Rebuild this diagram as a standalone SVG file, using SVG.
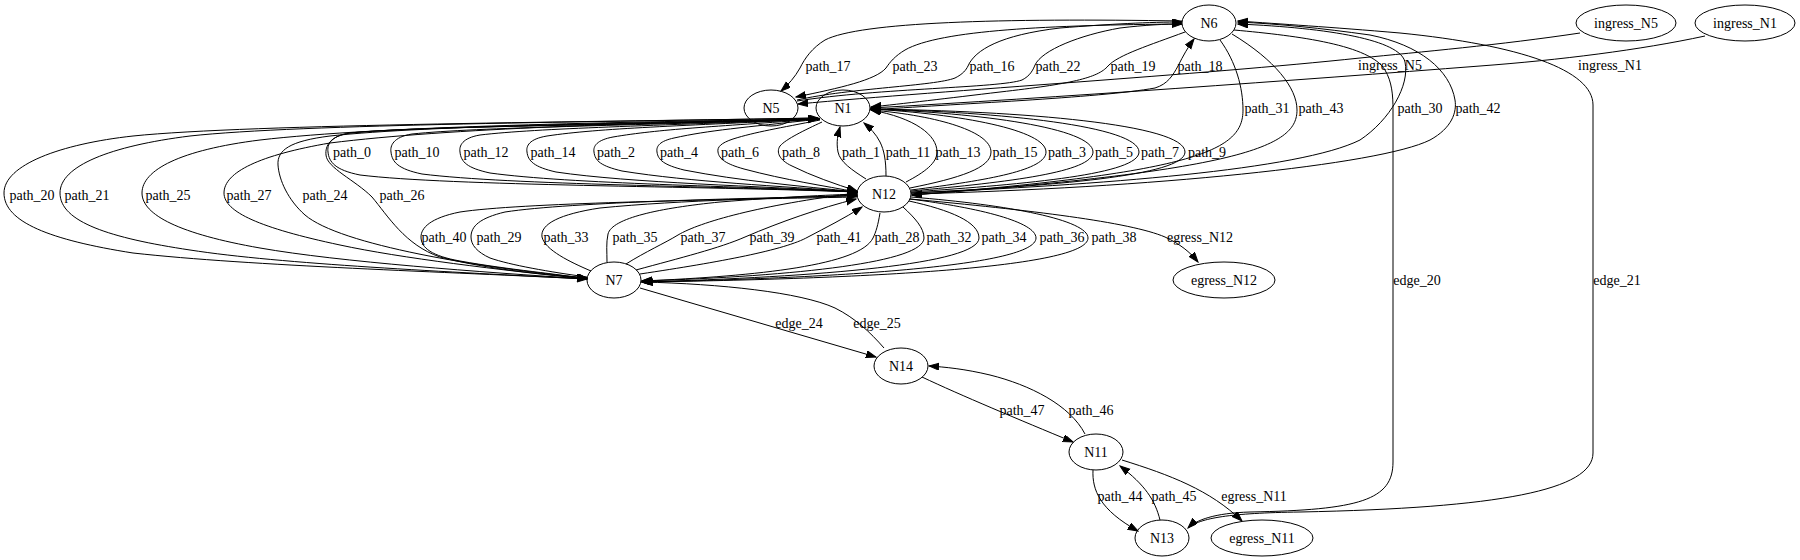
<svg xmlns="http://www.w3.org/2000/svg" width="1800" height="560" viewBox="0 0 1800 560">
<style>
text{font-family:"Liberation Serif","Times New Roman",serif;font-size:14px;fill:#000;text-anchor:middle}
.node ellipse{fill:none;stroke:#000;stroke-width:1}
.edges path{fill:none;stroke:#000;stroke-width:1;marker-end:url(#arr)}
</style>
<defs>
<marker id="arr" markerUnits="userSpaceOnUse" markerWidth="11" markerHeight="8" refX="10" refY="3.5" orient="auto">
<polygon points="0,0 10,3.5 0,7" fill="#000" stroke="#000" stroke-width="1"/>
</marker>
</defs>
<rect width="1800" height="560" fill="#fff"/>
<g id="connectors" class="edges">
<!-- Row A -->
<g id="e_path_17"><path d="M1182,21 C1000,18 860,22 825,40 C812,48 805,58 800,68 C795,77 788,85 781,91"/><text x="828" y="71">path_17</text></g>
<g id="e_path_23"><path d="M1182,24 C1050,25 940,30 905,50 C895,56 890,62 886,68 C876,80 840,88 796,97"/><text x="915" y="71">path_23</text></g>
<g id="e_path_16"><path d="M797,100 C850,88 935,86 955,78 C963,74 966,70 968,66 C975,50 1000,35 1060,28 C1110,24 1150,22 1182,22"/><text x="992" y="71">path_16</text></g>
<g id="e_path_22"><path d="M797,101 C880,88 1000,88 1022,80 C1030,76 1033,70 1035,65 C1042,50 1080,35 1120,28 C1145,25 1165,24 1182,24"/><text x="1058" y="71">path_22</text></g>
<g id="e_path_19"><path d="M1185,32 C1150,45 1118,55 1108,66 C1098,78 1070,84 1000,92 C950,98 900,104 871,107"/><text x="1133" y="71">path_19</text></g>
<g id="e_path_18"><path d="M871,110 C950,104 1100,98 1155,88 C1168,84 1173,75 1178,66 C1183,56 1188,47 1194,39"/><text x="1200" y="71">path_18</text></g>
<g id="e_ingress_N5"><path d="M1580,33 C1500,45 1420,52 1360,58 C1200,75 950,90 798,104"/><text x="1390" y="70">ingress_N5</text></g>
<g id="e_ingress_N1"><path d="M1705,36 C1640,50 1560,60 1480,66 C1300,80 1050,98 871,108"/><text x="1610" y="70">ingress_N1</text></g>
<!-- Row B -->
<g id="e_path_31"><path d="M1220,40 C1236,62 1243,88 1243,110 C1243,150 1200,172 912,195"/><text x="1267" y="113">path_31</text></g>
<g id="e_path_43"><path d="M1232,34 C1275,60 1297,88 1297,110 C1297,145 1250,170 912,195"/><text x="1321" y="113">path_43</text></g>
<g id="e_path_30"><path d="M911,193 C1100,185 1300,170 1360,140 C1390,120 1410,85 1405,62 C1400,40 1330,28 1238,24"/><text x="1420" y="113">path_30</text></g>
<g id="e_path_42"><path d="M911,194 C1150,188 1380,165 1430,140 C1452,128 1457,112 1455,100 C1450,70 1420,45 1370,35 C1320,28 1280,24 1238,22"/><text x="1478" y="113">path_42</text></g>
<g id="e_edge_20"><path d="M1234,30 C1300,36 1370,45 1385,70 C1392,82 1393,95 1393,110 L1393,462 C1393,500 1360,510 1250,512 C1215,513 1196,520 1188,528"/><text x="1417" y="285">edge_20</text></g>
<g id="e_edge_21"><path d="M1188,528 C1200,518 1230,513 1300,512 C1500,508 1593,490 1593,453 L1593,105 C1593,70 1520,45 1400,33 C1330,27 1280,24 1238,21"/><text x="1617" y="285">edge_21</text></g>
<!-- Row C left -->
<g id="e_path_0"><path d="M820,119 C600,126 420,126 350,133 C330,136 327,145 328,152 C329,162 335,170 360,175 C450,186 700,186 857,192"/><text x="352" y="157">path_0</text></g>
<g id="e_path_10"><path d="M820,119 C620,126 480,127 412,134 C393,137 390,146 391,152 C392,162 398,169 422,174 C510,185 720,186 857,192"/><text x="417" y="157">path_10</text></g>
<g id="e_path_12"><path d="M820,119 C650,126 540,128 480,135 C462,138 459,146 460,152 C461,162 467,168 490,173 C570,184 740,186 857,192"/><text x="486" y="157">path_12</text></g>
<g id="e_path_14"><path d="M820,119 C680,126 600,128 547,136 C529,139 526,146 527,152 C528,161 534,167 556,172 C630,183 760,186 857,192"/><text x="553" y="157">path_14</text></g>
<g id="e_path_2"><path d="M820,119 C710,127 660,129 613,137 C597,140 593,146 594,152 C595,161 601,166 622,171 C690,182 780,186 857,192"/><text x="616" y="157">path_2</text></g>
<g id="e_path_4"><path d="M820,119 C740,128 710,130 674,138 C660,141 656,146 657,152 C658,160 664,165 684,170 C740,181 800,186 857,192"/><text x="679" y="157">path_4</text></g>
<g id="e_path_6"><path d="M820,120 C780,128 755,132 733,139 C721,143 717,147 718,152 C719,159 726,164 744,169 C785,180 825,186 857,192"/><text x="740" y="157">path_6</text></g>
<g id="e_path_8"><path d="M822,122 C805,130 786,139 780,146 C776,152 779,160 792,166 C812,176 835,184 857,191"/><text x="801" y="157">path_8</text></g>
<!-- Row C right -->
<g id="e_path_1"><path d="M866,179 C852,170 840,162 838,152 C836,142 838,134 840,127"/><text x="861" y="157">path_1</text></g>
<g id="e_path_11"><path d="M886,176 C886,160 884,150 880,142 C876,134 870,128 864,123"/><text x="908" y="157">path_11</text></g>
<g id="e_path_13"><path d="M906,182 C925,172 937,163 937,152 C937,135 915,118 871,110"/><text x="958" y="157">path_13</text></g>
<g id="e_path_15"><path d="M910,188 C960,178 991,168 991,152 C991,132 940,116 871,110"/><text x="1015" y="157">path_15</text></g>
<g id="e_path_3"><path d="M911,190 C990,180 1046,170 1046,152 C1046,130 960,114 871,109"/><text x="1067" y="157">path_3</text></g>
<g id="e_path_5"><path d="M911,191 C1010,182 1093,172 1093,152 C1093,128 980,113 871,109"/><text x="1114" y="157">path_5</text></g>
<g id="e_path_7"><path d="M911,192 C1030,184 1139,174 1139,152 C1139,126 1000,112 871,109"/><text x="1160" y="157">path_7</text></g>
<g id="e_path_9"><path d="M911,193 C1050,186 1185,176 1185,152 C1185,124 1020,111 871,109"/><text x="1207" y="157">path_9</text></g>
<!-- Row D -->
<g id="e_path_20"><path d="M818,118 C600,122 250,124 133,136 C60,144 4,165 4,193 C4,222 50,240 133,253 C250,266 450,272 587,279"/><text x="32" y="200">path_20</text></g>
<g id="e_path_21"><path d="M587,279 C450,272 280,264 190,250 C110,238 60,222 60,193 C60,166 110,146 190,136 C300,124 600,122 818,118"/><text x="87" y="200">path_21</text></g>
<g id="e_path_25"><path d="M587,279 C480,272 340,262 260,248 C180,234 142,215 142,193 C142,170 180,150 260,140 C380,126 620,122 818,119"/><text x="168" y="200">path_25</text></g>
<g id="e_path_27"><path d="M587,279 C500,270 400,258 340,245 C260,228 224,212 224,193 C224,172 260,155 330,143 C450,128 640,123 818,119"/><text x="249" y="200">path_27</text></g>
<g id="e_path_24"><path d="M818,119 C650,123 430,125 330,136 C290,141 277,150 278,165 C279,180 288,200 305,215 C340,245 480,268 587,278"/><text x="325" y="200">path_24</text></g>
<g id="e_path_26"><path d="M818,119 C660,124 420,126 350,133 C330,136 325,146 326,155 C327,168 355,180 372,197 C388,216 405,245 440,257 C490,270 550,275 587,278"/><text x="402" y="200">path_26</text></g>
<!-- Row E left -->
<g id="e_path_40"><path d="M857,197 C700,200 520,203 460,212 C430,218 421,228 421,237 C421,248 432,256 460,261 C510,270 560,274 587,279"/><text x="444" y="242">path_40</text></g>
<g id="e_path_29"><path d="M587,277 C550,272 510,265 490,258 C477,252 471,245 471,237 C471,226 480,218 505,212 C570,202 750,198 857,196"/><text x="499" y="242">path_29</text></g>
<g id="e_path_33"><path d="M591,271 C570,262 545,250 542,237 C540,224 560,214 600,208 C680,200 790,198 857,195"/><text x="566" y="242">path_33</text></g>
<g id="e_path_35"><path d="M607,262 C607,252 606,243 608,234 C612,218 660,208 720,202 C780,197 830,195 857,194"/><text x="635" y="242">path_35</text></g>
<g id="e_path_37"><path d="M626,264 C645,252 665,243 678,235 C700,222 760,205 857,193"/><text x="703" y="242">path_37</text></g>
<g id="e_path_39"><path d="M636,270 C680,258 720,248 745,237 C780,222 820,208 856,199"/><text x="772" y="242">path_39</text></g>
<g id="e_path_41"><path d="M640,274 C720,262 785,250 808,237 C825,228 845,218 862,207"/><text x="839" y="242">path_41</text></g>
<!-- Row E right -->
<g id="e_path_28"><path d="M880,213 C878,225 876,232 873,238 C860,265 760,276 642,281"/><text x="897" y="242">path_28</text></g>
<g id="e_path_32"><path d="M903,207 C915,218 924,228 924,238 C924,262 800,276 642,281"/><text x="949" y="242">path_32</text></g>
<g id="e_path_34"><path d="M909,201 C950,210 979,222 979,238 C979,264 820,277 642,282"/><text x="1004" y="242">path_34</text></g>
<g id="e_path_36"><path d="M910,199 C980,208 1036,222 1036,238 C1036,266 840,278 642,282"/><text x="1062" y="242">path_36</text></g>
<g id="e_path_38"><path d="M911,197 C1010,205 1088,220 1088,238 C1088,268 860,279 642,282"/><text x="1114" y="242">path_38</text></g>
<g id="e_egress_N12"><path d="M910,199 C1030,210 1130,222 1165,237 C1180,244 1190,252 1198,262"/><text x="1200" y="242">egress_N12</text></g>
<!-- Lower -->
<g id="e_edge_24"><path d="M640,288 L876,357"/><text x="799" y="328">edge_24</text></g>
<g id="e_edge_25"><path d="M884,348 C870,332 855,318 835,308 C800,292 720,284 643,282"/><text x="877" y="328">edge_25</text></g>
<g id="e_path_47"><path d="M922,377 C960,395 1020,420 1073,442"/><text x="1022" y="415">path_47</text></g>
<g id="e_path_46"><path d="M1085,434 C1070,405 1030,385 990,375 C965,369 945,367 929,366"/><text x="1091" y="415">path_46</text></g>
<g id="e_path_44"><path d="M1093,470 C1092,490 1100,510 1138,531"/><text x="1120" y="501">path_44</text></g>
<g id="e_path_45"><path d="M1160,520 C1155,500 1145,485 1120,466"/><text x="1174" y="501">path_45</text></g>
<g id="e_egress_N11"><path d="M1122,460 C1170,475 1210,490 1242,521"/><text x="1254" y="501">egress_N11</text></g>
</g>
<g id="N6" class="node"><ellipse cx="1209" cy="23" rx="27" ry="18"/><text x="1209" y="28">N6</text></g>
<g id="ingress_N5" class="node"><ellipse cx="1626" cy="23" rx="50" ry="18"/><text x="1626" y="28">ingress_N5</text></g>
<g id="ingress_N1" class="node"><ellipse cx="1745" cy="23" rx="50" ry="18"/><text x="1745" y="28">ingress_N1</text></g>
<g id="N5" class="node"><ellipse cx="771" cy="108" rx="27" ry="18"/><text x="771" y="113">N5</text></g>
<g id="N1" class="node"><ellipse cx="843" cy="108" rx="27" ry="18"/><text x="843" y="113">N1</text></g>
<g id="N12" class="node"><ellipse cx="884" cy="194" rx="27" ry="18"/><text x="884" y="199">N12</text></g>
<g id="N7" class="node"><ellipse cx="614" cy="280" rx="27" ry="18"/><text x="614" y="285">N7</text></g>
<g id="egress_N12" class="node"><ellipse cx="1224" cy="280" rx="51" ry="18"/><text x="1224" y="285">egress_N12</text></g>
<g id="N14" class="node"><ellipse cx="901" cy="366" rx="27" ry="18"/><text x="901" y="371">N14</text></g>
<g id="N11" class="node"><ellipse cx="1096" cy="452" rx="27" ry="18"/><text x="1096" y="457">N11</text></g>
<g id="N13" class="node"><ellipse cx="1162" cy="538" rx="27" ry="18"/><text x="1162" y="543">N13</text></g>
<g id="egress_N11" class="node"><ellipse cx="1262" cy="538" rx="51" ry="18"/><text x="1262" y="543">egress_N11</text></g>
</svg>
